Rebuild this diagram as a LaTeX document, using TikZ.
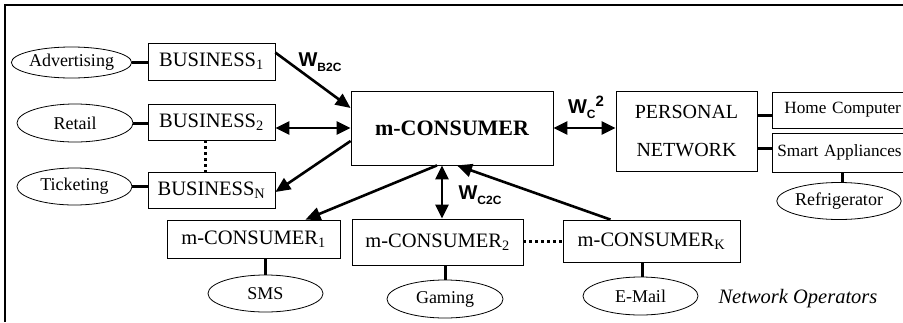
\documentclass[tikz,border=0pt]{standalone}
\usepackage{fontspec}
\setmainfont{Liberation Serif}
\newfontfamily\wfont{Liberation Sans}
\usetikzlibrary{arrows.meta,shapes.geometric}
\begin{document}
\begin{tikzpicture}[x=1pt,y=-1pt,
  box/.style={draw,line width=0.8pt,inner sep=0pt,font=\fontsize{20.5}{24}\selectfont},
  oval/.style={draw,ellipse,line width=0.8pt,inner sep=0pt,font=\fontsize{18}{20}\selectfont},
  link/.style={line width=3pt},
  arr/.style={line width=2.6pt,-{Triangle[length=15pt,width=13pt]}},
  darr/.style={line width=2.6pt,{Triangle[length=14pt,width=13pt]}-{Triangle[length=14pt,width=13pt]}},
  dots/.style={line width=3pt,dash pattern=on 3pt off 3pt},
  wlab/.style={font=\wfont\bfseries\fontsize{20}{20}\selectfont,inner sep=0pt}]
\useasboundingbox (0,0) rectangle (903,322);
\clip (0,0) rectangle (903,322);
\draw[line width=1.5pt] (5,322) -- (5,5) -- (904,5);

% business side
\node[box,minimum width=127pt,minimum height=37pt] (B1) at (211.5,61.5) {BUSINESS\textsubscript{1}};
\node[box,minimum width=127pt,minimum height=36pt] (B2) at (211.5,122) {BUSINESS\textsubscript{2}};
\node[box,minimum width=127pt,minimum height=36pt] (BN) at (211.5,190) {BUSINESS\textsubscript{N}};
\node[oval,minimum width=113pt,minimum height=31pt] (Adv) at (71.5,62.5) {Advertising};
\node[oval,minimum width=116pt,minimum height=38pt] (Ret) at (75,123) {Retail};
\node[oval,minimum width=115pt,minimum height=37pt] (Tic) at (74.5,186.5) {Ticketing};

% centre
\node[box,minimum width=202pt,minimum height=74pt,font=\bfseries\fontsize{22}{24}\selectfont] (mCons) at (452,128) {m-CONSUMER};

% personal network
\node[box,minimum width=141pt,minimum height=80pt,align=center,font=\fontsize{20}{38}\selectfont] (PN) at (686.5,131) {PERSONAL\\NETWORK};
\node[box,minimum width=140pt,minimum height=36pt,font=\fontsize{17.2}{20}\selectfont,anchor=west,text width=136pt,inner xsep=2pt] (HC) at (772,110) {\hspace*{10pt}Home Computer};
\node[box,minimum width=140pt,minimum height=39pt,font=\fontsize{17.2}{20}\selectfont,anchor=west,text width=136pt,inner xsep=2pt] (SA) at (772,152.5) {\hspace*{3pt}Smart Appliances};
\node[oval,minimum width=108pt,minimum height=37pt] (Ref) at (839,201) {Refrigerator};

% consumers
\node[box,minimum width=173pt,minimum height=38pt] (mC1) at (253.5,239) {m-CONSUMER\textsubscript{1}};
\node[box,minimum width=171pt,minimum height=46pt] (mC2) at (437.5,242) {m-CONSUMER\textsubscript{2}};
\node[box,minimum width=177pt,minimum height=42pt] (mCK) at (651.5,241) {m-CONSUMER\textsubscript{K}};
\node[oval,minimum width=115pt,minimum height=37pt] (SMS) at (265.5,293.5) {SMS};
\node[oval,minimum width=116pt,minimum height=38pt] (Gam) at (445,299) {Gaming};
\node[oval,minimum width=115pt,minimum height=38pt] (EM) at (640.5,296) {E-Mail};
\node[font=\itshape\fontsize{20.5}{20}\selectfont,inner sep=0pt] (netop) at (798,299) {Network Operators};

% plain links
\draw[link] (Adv.east) -- (Adv.east -| B1.west);
\draw[link] (Ret.east) -- (Ret.east -| B2.west);
\draw[link] (Tic.east) -- (Tic.east -| BN.west);
\draw[link] ([yshift=16pt]PN.east) -- ([yshift=16pt]PN.east -| HC.west);
\draw[link] ([yshift=-17pt]PN.east) -- ([yshift=-17pt]PN.east -| SA.west);
\draw[link] ([xshift=3pt]Ref.north) -- ([xshift=3pt]Ref.north |- SA.south);
\draw[link] (SMS.north) -- (SMS.north |- mC1.south);
\draw[link] (Gam.north) -- (Gam.north |- mC2.south);
\draw[link] ([xshift=2pt]EM.north) -- ([xshift=2pt]EM.north |- mCK.south);

% dotted
\draw[dots] ([xshift=-6.5pt]B2.south) -- ([xshift=-6.5pt]B2.south |- BN.north);
\draw[dots] (mC2.east |- mCK.west) -- (mCK.west);

% arrows
\draw[arr] ([yshift=-10pt]B1.north east) -- ([yshift=20pt]mCons.west);
\draw[darr] (mCons.west) -- (mCons.west -| B2.east);
\draw[arr] ([yshift=-13pt]mCons.west) -- ([yshift=-2pt]BN.east);
\draw[arr] ([xshift=-15pt]mCons.south) -- ([xshift=52pt]mC1.north);
\draw[darr] ([xshift=-10pt]mCons.south) -- ([xshift=-10pt]mCons.south |- mC2.north);
\draw[arr] ([xshift=-41pt]mCK.north) -- ([xshift=5pt]mCons.south);
\draw[darr] (mCons.east) -- (mCons.east -| PN.west);

% labels
\node[wlab] (wb2c) at (320,62) {W\raisebox{-5pt}{\fontsize{12}{12}\selectfont B2C}};
\node[wlab] (wc2) at (586,107) {W\raisebox{-5pt}{\fontsize{12}{12}\selectfont C}\raisebox{7pt}{\fontsize{15}{15}\selectfont 2}};
\node[wlab] (wc2c) at (480,195) {W\raisebox{-5pt}{\fontsize{12}{12}\selectfont C2C}};
\end{tikzpicture}
\end{document}
